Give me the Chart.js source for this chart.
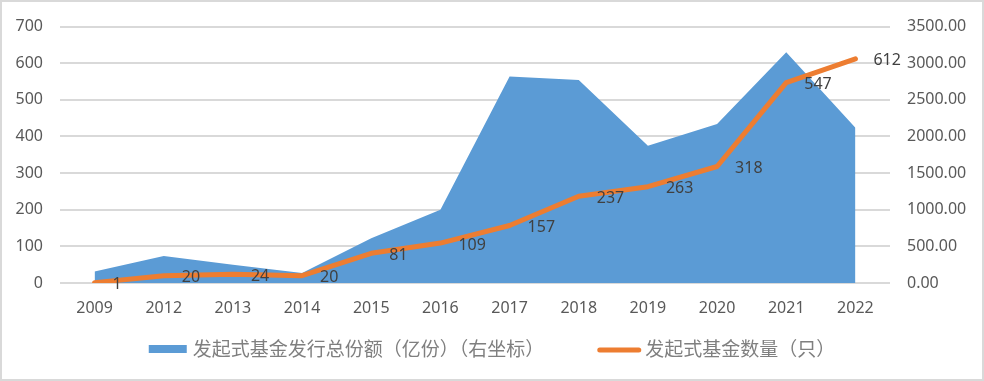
<!DOCTYPE html>
<html>
<head>
<meta charset="utf-8">
<script src="https://cdn.jsdelivr.net/npm/chart.js@4/dist/chart.umd.min.js"></script>
<style>
html,body{margin:0;padding:0;background:#fff;}
#wrap{position:relative;width:984px;height:381px;}
canvas{display:block;}
</style>
</head>
<body>
<div id="wrap"><canvas id="c" width="984" height="381"></canvas></div>
<script>
const categories = ['2009','2012','2013','2014','2015','2016','2017','2018','2019','2020','2021','2022'];
const issueShares = [156, 370, 250, 135, 610, 1000, 2820, 2770, 1875, 2170, 3150, 2120];
const fundCount = [1, 20, 24, 20, 81, 109, 157, 237, 263, 318, 547, 612];
const leftTicks = [0, 100, 200, 300, 400, 500, 600, 700];
const rightTicks = [0, 500, 1000, 1500, 2000, 2500, 3000, 3500];
const areaLabel = '发起式基金发行总份额（亿份）（右坐标）';
const lineLabel = '发起式基金数量（只）';

const FONT = "'Noto Sans', 'Noto Sans CJK SC', sans-serif";

const frame = {
  id: 'frame',
  beforeDraw(chart) {
    const c = chart.ctx;
    c.save();
    c.fillStyle = '#fff';
    c.fillRect(0, 0, chart.width, chart.height);
    c.restore();
  },
  afterDraw(chart) {
    const c = chart.ctx;
    c.save();
    c.strokeStyle = '#d9d9d9';
    c.lineWidth = 2;
    c.strokeRect(1, 1, chart.width - 2, chart.height - 2);
    c.restore();
  }
};

const valueLabels = {
  id: 'valueLabels',
  afterDatasetsDraw(chart) {
    const meta = chart.getDatasetMeta(1);
    const c = chart.ctx;
    c.save();
    c.font = "16px " + FONT;
    c.fillStyle = '#404040';
    c.textAlign = 'left';
    c.textBaseline = 'middle';
    meta.data.forEach((pt, i) => {
      c.fillText(String(fundCount[i]), pt.x + 18, pt.y + 2);
    });
    c.restore();
  }
};

// legend drawn below the x axis, centred, built from the datasets
const bottomLegend = {
  id: 'bottomLegend',
  afterDraw(chart) {
    const c = chart.ctx;
    const ds = chart.data.datasets;
    c.save();
    c.font = "19px 'Noto Sans CJK SC', sans-serif";
    c.textBaseline = 'middle';
    c.textAlign = 'left';
    const symW = [38, 44];
    const symGap = [6, 4];
    const itemGap = 53;
    const tw = ds.map(d => c.measureText(d.label).width);
    const total = symW[0] + symGap[0] + tw[0] + itemGap + symW[1] + symGap[1] + tw[1];
    let x = (chart.width - total) / 2;
    const y = chart.chartArea.bottom + 66;
    // area item
    c.fillStyle = ds[0].backgroundColor;
    c.fillRect(x, y - 4, symW[0], 8);
    x += symW[0] + symGap[0];
    c.fillStyle = '#7f7f7f';
    c.fillText(ds[0].label, x, y);
    x += tw[0] + itemGap;
    // line item
    c.strokeStyle = ds[1].borderColor;
    c.lineWidth = 5;
    c.lineCap = 'round';
    c.beginPath();
    c.moveTo(x + 2.5, y + 1);
    c.lineTo(x + symW[1] - 2.5, y + 1);
    c.stroke();
    x += symW[1] + symGap[1];
    c.fillText(ds[1].label, x, y);
    c.restore();
  }
};

new Chart(document.getElementById('c'), {
  type: 'line',
  data: {
    labels: categories,
    datasets: [
      {
        label: areaLabel,
        data: issueShares,
        yAxisID: 'y1',
        fill: 'origin',
        backgroundColor: '#5b9bd5',
        borderColor: '#5b9bd5',
        borderWidth: 0,
        pointRadius: 0,
        tension: 0,
        order: 2
      },
      {
        label: lineLabel,
        data: fundCount,
        yAxisID: 'y',
        fill: false,
        borderColor: '#ed7d31',
        backgroundColor: '#ed7d31',
        borderWidth: 5,
        borderCapStyle: 'round',
        borderJoinStyle: 'round',
        pointRadius: 0,
        tension: 0,
        order: 1
      }
    ]
  },
  options: {
    responsive: false,
    animation: false,
    devicePixelRatio: 1,
    layout: { padding: { top: 23, left: 0, right: 0, bottom: 66 } },
    plugins: {
      tooltip: { enabled: false },
      legend: { display: false }
    },
    scales: {
      x: {
        offset: true,
        grid: { display: false },
        border: { display: false },
        ticks: { color: '#595959', font: { size: 16, family: FONT }, padding: 8, maxRotation: 0 },
        afterFit(s) { s.height = 32; }
      },
      y: {
        position: 'left',
        min: 0, max: 700,
        afterBuildTicks(s) { s.ticks = leftTicks.map(v => ({ value: v })); },
        grid: { color: '#d9d9d9', lineWidth: 2, drawTicks: false },
        border: { display: false },
        ticks: { color: '#595959', font: { size: 16, family: FONT }, padding: 17 },
        afterFit(s) { s.width = 60; }
      },
      y1: {
        position: 'right',
        min: 0, max: 3500,
        afterBuildTicks(s) { s.ticks = rightTicks.map(v => ({ value: v })); },
        grid: { display: false, drawTicks: false },
        border: { display: false },
        ticks: { color: '#595959', font: { size: 16, family: FONT }, padding: 17, callback: v => Number(v).toFixed(2) },
        afterFit(s) { s.width = 94; }
      }
    }
  },
  plugins: [frame, valueLabels, bottomLegend]
});
</script>
</body>
</html>
